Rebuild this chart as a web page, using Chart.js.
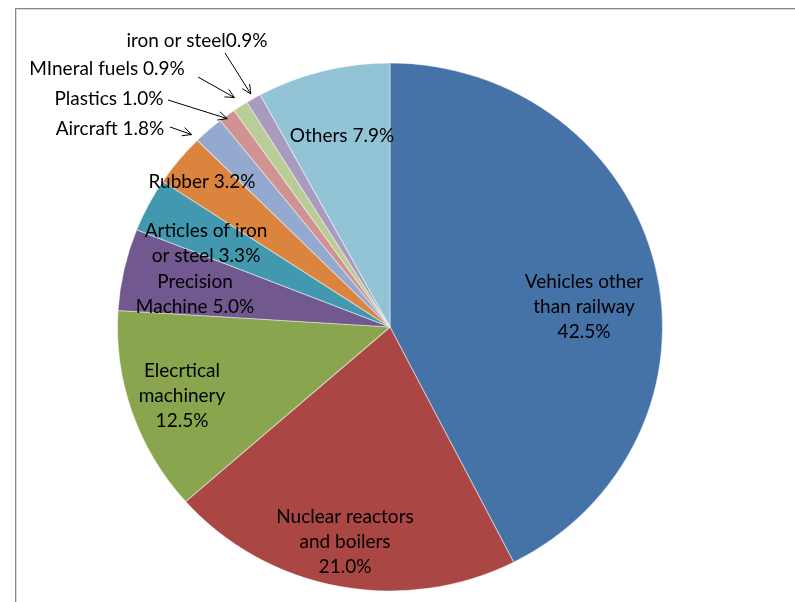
<!DOCTYPE html>
<html>
<head>
<meta charset="utf-8">
<script src="https://cdn.jsdelivr.net/npm/chart.js@4.4.0/dist/chart.umd.min.js"></script>
<style>
  html, body { margin: 0; padding: 0; background: #fff; overflow: hidden; }
  #wrap { position: relative; width: 795px; height: 602px; }
  #frame { position: absolute; left: 15px; top: 8px; width: 900px; height: 700px;
           border-left: 1px solid #868686; border-top: 1px solid #868686;
           box-shadow: inset 1px 1px 0 #d9d9d9; }
  canvas { position: absolute; left: 0; top: 0; }
</style>
</head>
<body>
<div id="wrap">
  <div id="frame"></div>
  <canvas id="pie" width="795" height="602"></canvas>
</div>
<script>
// values, clockwise from 12 o'clock
const categories = [
  ["Vehicles other", "than railway"],
  ["Nuclear reactors", "and boilers"],
  ["Elecrtical", "machinery"],
  ["Precision", "Machine"],
  ["Articles of iron", "or steel"],
  ["Rubber"],
  ["Aircraft"],
  ["Plastics"],
  ["MIneral fuels"],
  ["iron or steel"],
  ["Others"]
];
const shares = [42.5, 21.0, 12.5, 5.0, 3.3, 3.2, 1.8, 1.0, 0.9, 0.9, 7.9];
const sliceColors = ["#4572A7", "#AA4643", "#89A54E", "#71588F", "#4198AF", "#DB843D",
                     "#93A9CF", "#D19392", "#B9CD96", "#A99BBD", "#93C4D6"];

// label placement relative to pie centre (px); arrow: start offset, radius factor, angle shift (deg)
const labelLayout = [
  {dx: 194, dy: -39, pctOwnLine: true},
  {dx: -45, dy: 196, pctOwnLine: true},
  {dx: -208, dy: 50, pctOwnLine: true},
  {dx: -195, dy: -39},
  {dx: -184, dy: -90},
  {dx: -188, dy: -139},
  {dx: -280, dy: -192, arrow: {sx: -220, sy: -200, k: 1.03, da: -3.2}},
  {dx: -281, dy: -222, arrow: {sx: -222, sy: -227, k: 0.99, da: -0.4}},
  {dx: -283, dy: -252, arrow: {sx: -192, sy: -250, k: 1.04, da: 0}},
  {dx: -193, dy: -280, pctNoSpace: true, arrow: {sx: -165, sy: -274, k: 1.02, da: 0}},
  {dx: -48, dy: -185}
];

const X_STRETCH = 273 / 264.5;
const FONT = "19px Lato";
const LINE_H = 25;

const stretchPlugin = {
  id: 'stretch',
  beforeDatasetsDraw(chart) {
    const arc = chart.getDatasetMeta(0).data[0];
    const ctx = chart.ctx;
    ctx.save();
    ctx.translate(arc.x, 0);
    ctx.scale(X_STRETCH, 1);
    ctx.translate(-arc.x, 0);
  },
  afterDatasetsDraw(chart) {
    chart.ctx.restore();
  }
};

function drawArrow(ctx, x1, y1, x2, y2) {
  const a = Math.atan2(y2 - y1, x2 - x1);
  const h = 10, w = 0.45;
  ctx.beginPath();
  ctx.moveTo(x1, y1);
  ctx.lineTo(x2, y2);
  ctx.moveTo(x2 - h * Math.cos(a - w), y2 - h * Math.sin(a - w));
  ctx.lineTo(x2, y2);
  ctx.lineTo(x2 - h * Math.cos(a + w), y2 - h * Math.sin(a + w));
  ctx.stroke();
}

const labelPlugin = {
  id: 'sliceLabels',
  afterDraw(chart) {
    const ctx = chart.ctx;
    const meta = chart.getDatasetMeta(0);
    ctx.save();
    ctx.font = FONT;
    ctx.fillStyle = "#000";
    ctx.strokeStyle = "#000";
    ctx.lineWidth = 1;
    ctx.textAlign = "center";
    ctx.textBaseline = "alphabetic";
    meta.data.forEach((arc, i) => {
      const lay = labelLayout[i];
      const pct = shares[i].toFixed(1) + "%";
      let lines = categories[i].slice();
      if (lay.pctOwnLine) {
        lines.push(pct);
      } else {
        const last = lines.length - 1;
        lines[last] = lines[last] + (lay.pctNoSpace ? "" : " ") + pct;
      }
      const x = arc.x + lay.dx;
      lines.forEach((t, j) => ctx.fillText(t, x, arc.y + lay.dy + j * LINE_H));
      if (lay.arrow) {
        const mid = (arc.startAngle + arc.endAngle) / 2 + lay.arrow.da * Math.PI / 180;
        const r = arc.outerRadius * lay.arrow.k;
        const ex = arc.x + Math.cos(mid) * r * X_STRETCH;
        const ey = arc.y + Math.sin(mid) * r;
        drawArrow(ctx, arc.x + lay.arrow.sx, arc.y + lay.arrow.sy, ex, ey);
      }
    });
    ctx.restore();
  }
};

new Chart(document.getElementById("pie"), {
  type: "pie",
  data: {
    labels: categories.map(c => c.join(" ")),
    datasets: [{
      data: shares,
      backgroundColor: sliceColors,
      borderColor: "rgba(255,255,255,0.45)",
      borderWidth: 1,
      clip: false
    }]
  },
  plugins: [stretchPlugin, labelPlugin],
  options: {
    responsive: false,
    animation: false,
    events: [],
    layout: { padding: { left: 100, right: 115, top: 62.5, bottom: 10.5 } },
    plugins: {
      legend: { display: false },
      tooltip: { enabled: false }
    }
  }
});
</script>
</body>
</html>
